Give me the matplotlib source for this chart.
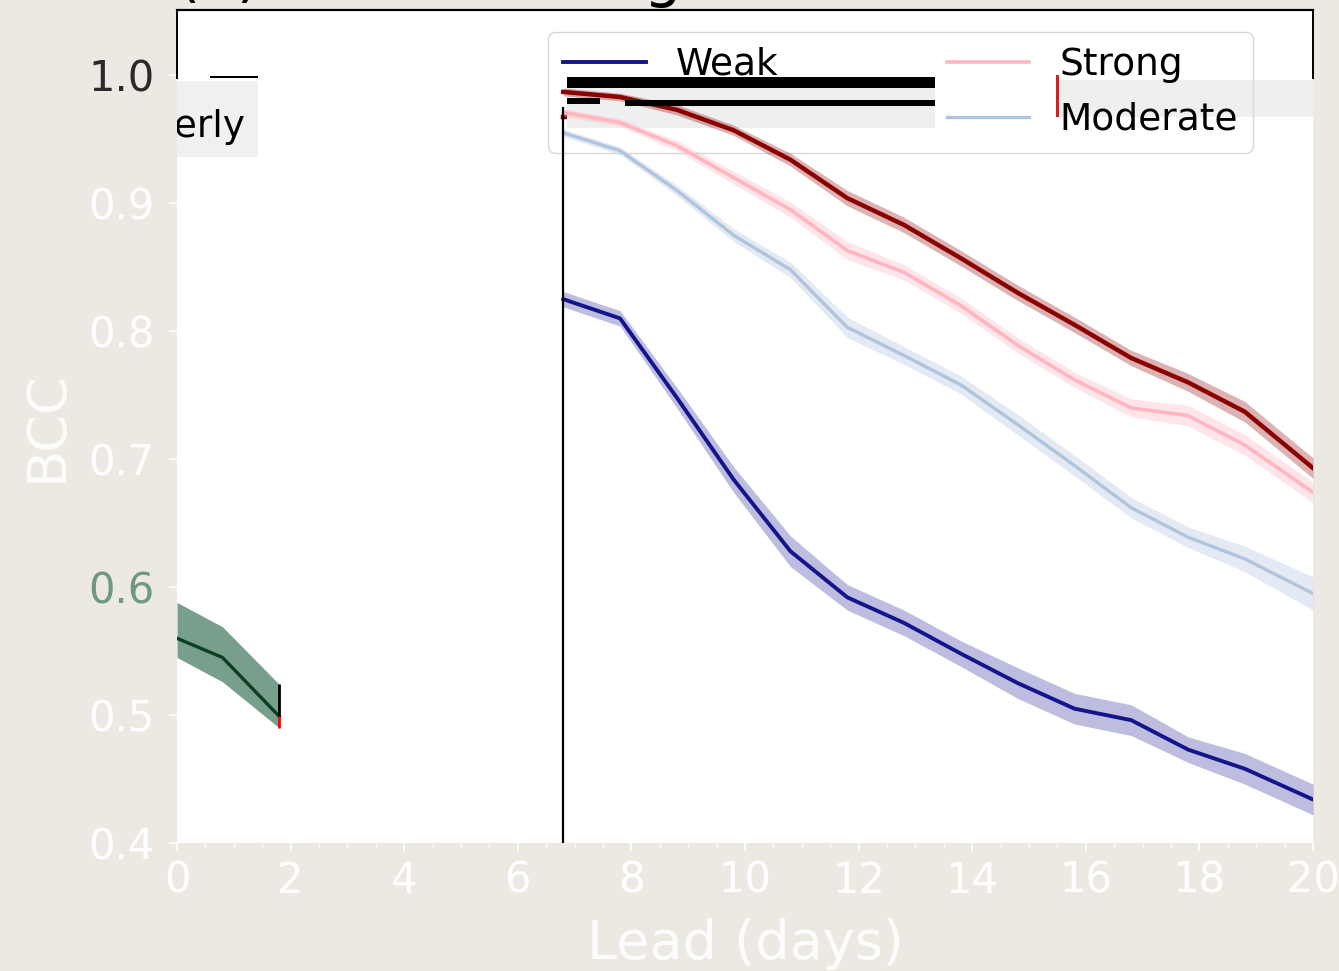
"""
BCC against forecast lead time, split by regime strength, with a short
early-lead reference curve.  Saved as out.png.
"""

import matplotlib
import matplotlib.pyplot as plt
from matplotlib.patches import Rectangle

matplotlib.use("Agg")

# ---------------------------------------------------------------------------
# Data
# ---------------------------------------------------------------------------
LEAD = [6.8, 7.8, 8.8, 9.8, 10.8, 11.8, 12.8, 13.8, 14.8, 15.8, 16.8, 17.8, 18.8, 20.0]

WEAK = [0.825, 0.810, 0.748, 0.684, 0.628, 0.592, 0.572, 0.548, 0.525, 0.505, 0.496, 0.473, 0.458, 0.434]
WEAK_SPREAD = [0.006, 0.006, 0.008, 0.010, 0.012, 0.010, 0.010, 0.010, 0.012, 0.012, 0.012, 0.010, 0.012, 0.012]

VERY_STRONG = [0.987, 0.983, 0.973, 0.957, 0.934, 0.904, 0.883, 0.857, 0.830, 0.805, 0.779, 0.760, 0.737, 0.693]
VERY_STRONG_SPREAD = [0.003, 0.003, 0.004, 0.004, 0.005, 0.006, 0.006, 0.006, 0.006, 0.006, 0.006, 0.007, 0.008, 0.008]

STRONG = [0.971, 0.963, 0.945, 0.920, 0.895, 0.863, 0.846, 0.820, 0.789, 0.762, 0.740, 0.734, 0.711, 0.674]
STRONG_SPREAD = [0.003, 0.003, 0.004, 0.005, 0.006, 0.007, 0.006, 0.006, 0.006, 0.006, 0.007, 0.008, 0.008, 0.008]

MODERATE = [0.955, 0.941, 0.910, 0.875, 0.848, 0.803, 0.781, 0.758, 0.727, 0.695, 0.662, 0.639, 0.622, 0.595]
MODERATE_SPREAD = [0.003, 0.003, 0.004, 0.005, 0.006, 0.008, 0.007, 0.007, 0.008, 0.008, 0.008, 0.008, 0.010, 0.013]

EARLY_LEAD = [0.0, 0.8, 1.8]
EARLY_MEAN = [0.560, 0.545, 0.499]
EARLY_LOW = [0.545, 0.526, 0.490]
EARLY_HIGH = [0.588, 0.569, 0.524]

LEGEND_ORDER = ["Weak", "Very strong", "Strong", "Moderate"]

X_TICKS = list(range(0, 21, 2))
Y_TICKS = [0.4, 0.5, 0.6, 0.7, 0.8, 0.9, 1.0]

# ---------------------------------------------------------------------------
# Style
# ---------------------------------------------------------------------------
PAPER = "#ece9e3"
INK = "white"
SERIES = {
    "Weak": (WEAK, WEAK_SPREAD, "#14148c", 2.8, 0.28),
    "Very strong": (VERY_STRONG, VERY_STRONG_SPREAD, "#8b0000", 3.2, 0.30),
    "Strong": (STRONG, STRONG_SPREAD, "#ffb6c1", 2.6, 0.35),
    "Moderate": (MODERATE, MODERATE_SPREAD, "#b0c4de", 2.4, 0.35),
}


def _axes_box(ax, x0, x1, y0, y1, **kw):
    """Rectangle given in axes fractions."""
    ax.add_patch(Rectangle((x0, y0), x1 - x0, y1 - y0, transform=ax.transAxes,
                           clip_on=True, lw=0, **kw))


fig = plt.figure(figsize=(13.39, 9.71), dpi=100, facecolor=PAPER)
ax = fig.add_axes([0.1322, 0.1318, 0.8484, 0.8579])
ax.set_facecolor("white")

# early-lead reference curve
ax.fill_between(EARLY_LEAD, EARLY_LOW, EARLY_HIGH, color="#1f5f3f", alpha=0.6, lw=0, zorder=2)
ax.plot(EARLY_LEAD, EARLY_MEAN, color="#0b3f24", lw=2.4, zorder=3)
ax.vlines(EARLY_LEAD[-1], EARLY_MEAN[-1], EARLY_HIGH[-1], color="black", lw=2, zorder=3)
ax.vlines(EARLY_LEAD[-1], EARLY_LOW[-1], EARLY_MEAN[-1], color="red", lw=2, zorder=3)

# regime curves with spread bands
handles = {}
for name, (vals, spread, col, lw, alpha) in SERIES.items():
    lo = [v - s for v, s in zip(vals, spread)]
    hi = [v + s for v, s in zip(vals, spread)]
    ax.fill_between(LEAD, lo, hi, color=col, alpha=alpha, lw=0, zorder=2)
    (handles[name],) = ax.plot(LEAD, vals, color=col, lw=lw, label=name, zorder=3)

ax.vlines(LEAD[0], 0.4, 0.975, color="black", lw=1.6, zorder=3)

ax.set_xlim(0, 20)
ax.set_ylim(0.4, 1.051)
ax.set_xticks(X_TICKS)
ax.set_xticks([x / 2 for x in range(41)], minor=True)
ax.set_yticks(Y_TICKS)
ax.set_yticklabels([f"{y:.1f}" for y in Y_TICKS])

ax.spines["bottom"].set_visible(False)
for side in ("left", "right"):
    ax.spines[side].set_bounds(0.998, 1.051)
    ax.spines[side].set_linewidth(1.4)
ax.spines["top"].set_linewidth(1.6)

ax.tick_params(axis="both", which="major", labelsize=30, colors=INK, length=6, width=1.2)
ax.tick_params(axis="y", which="major", pad=10)
ax.tick_params(axis="x", which="major", pad=6)
ax.tick_params(axis="x", which="minor", colors=INK, length=3, width=0.8)
ylabels = ax.get_yticklabels()
ylabels[-1].set_color("#2a2a2a")
ylabels[2].set_color("#6e9884")

ax.set_xlabel("Lead (days)", fontsize=39, color=INK, alpha=0.9, labelpad=12)
ax.set_ylabel("BCC", fontsize=39, color=INK, alpha=0.9, labelpad=11)
ax.set_title("(a) BCC in all regimes", loc="left", fontsize=43, pad=10.5)

leg = ax.legend([handles[n] for n in LEGEND_ORDER], LEGEND_ORDER, ncol=2, fontsize=27,
                loc="upper left", bbox_to_anchor=(0.3266, 0.9736), borderaxespad=0,
                columnspacing=1.5, handlelength=2.2,
                facecolor="none", edgecolor="#d8d8d8", framealpha=1)
leg.set_zorder(1)

# overlapping panel fragments near the legend
_axes_box(ax, 0.777, 1.000, 0.872, 0.916, color="#efefef", zorder=0.5)
_axes_box(ax, 0.343, 0.667, 0.858, 0.906, color="#efefef", zorder=1.5)
_axes_box(ax, 0.343, 0.667, 0.845, 0.858, color="white", zorder=1.5)
_axes_box(ax, 0.343, 0.667, 0.906, 0.920, color="black", zorder=6)
_axes_box(ax, 0.394, 0.667, 0.885, 0.892, color="black", zorder=6)
_axes_box(ax, 0.343, 0.372, 0.887, 0.894, color="black", zorder=6)
_axes_box(ax, 0.7735, 0.776, 0.871, 0.922, color="#d62020", zorder=6)

# clipped companion legend at the left edge
_axes_box(ax, 0.0, 0.0713, 0.823, 0.915, color="#f0f0f0", zorder=4)
_axes_box(ax, 0.0290, 0.0713, 0.918, 0.921, color="black", zorder=6)
ax.text(0.0600, 0.860, "Easterly", transform=ax.transAxes, fontsize=27,
        ha="right", va="center", zorder=6, clip_on=True)

fig.savefig("out.png", dpi=100, facecolor=PAPER)
